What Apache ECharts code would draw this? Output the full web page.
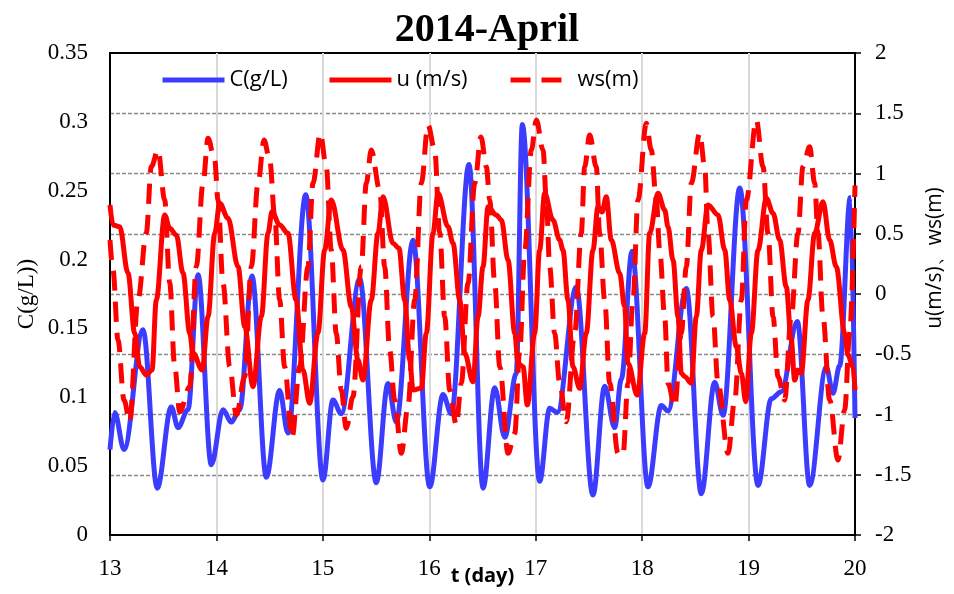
<!DOCTYPE html>
<html>
<head>
<meta charset="utf-8">
<script src="https://cdn.jsdelivr.net/npm/echarts@6/dist/echarts.min.js"></script>
<style>
  html, body { margin: 0; padding: 0; background: #fff; }
  #chart { width: 954px; height: 594px; }
</style>
</head>
<body>
<div id="chart"></div>
<script>
// Suspended sediment concentration, current velocity and water surface, 13–20 April 2014
const titleText = '2014-April';
const seriesNames = ['C(g/L)', 'u (m/s)', 'ws(m)'];

// C (g/L) — time in days, concentration
const tC = [13.000, 13.044, 13.132, 13.310, 13.444, 13.576, 13.639, 13.733, 13.827, 13.952,
  14.062, 14.140, 14.219, 14.334, 14.469, 14.594, 14.672, 14.839, 15.001, 15.095,
  15.173, 15.346, 15.502, 15.612, 15.690, 15.847, 16.004, 16.129, 16.207, 16.373,
  16.505, 16.615, 16.709, 16.817, 16.874, 17.037, 17.131, 17.203, 17.381, 17.538,
  17.648, 17.742, 17.804, 17.905, 18.055, 18.180, 18.243, 18.415, 18.556, 18.682,
  18.760, 18.917, 19.089, 19.214, 19.307, 19.458, 19.574, 19.730, 19.793, 19.856,
  19.956, 20.000];
const vC = [0.062, 0.089, 0.062, 0.149, 0.034, 0.093, 0.078, 0.091, 0.189, 0.051,
  0.091, 0.082, 0.091, 0.188, 0.042, 0.105, 0.074, 0.247, 0.040, 0.098,
  0.088, 0.186, 0.038, 0.110, 0.082, 0.214, 0.035, 0.102, 0.088, 0.269,
  0.034, 0.107, 0.071, 0.117, 0.298, 0.039, 0.092, 0.089, 0.180, 0.029,
  0.108, 0.078, 0.113, 0.206, 0.035, 0.094, 0.090, 0.179, 0.030, 0.111,
  0.087, 0.252, 0.036, 0.099, 0.104, 0.155, 0.036, 0.122, 0.103, 0.123,
  0.245, 0.085];

// u (m/s)
const tU = [13.000, 13.028, 13.091, 13.169, 13.232, 13.279, 13.341, 13.395, 13.435, 13.514,
  13.561, 13.623, 13.686, 13.749, 13.780, 13.867, 13.921, 13.984, 14.031, 14.109,
  14.203, 14.266, 14.344, 14.422, 14.485, 14.522, 14.594, 14.672, 14.748, 14.813,
  14.876, 14.954, 15.017, 15.079, 15.189, 15.267, 15.330, 15.377, 15.455, 15.518,
  15.565, 15.659, 15.715, 15.769, 15.816, 15.847, 15.925, 15.972, 16.035, 16.082,
  16.176, 16.223, 16.286, 16.333, 16.411, 16.458, 16.505, 16.552, 16.630, 16.677,
  16.740, 16.803, 16.834, 16.881, 16.921, 16.990, 17.037, 17.084, 17.162, 17.225,
  17.256, 17.303, 17.350, 17.413, 17.475, 17.538, 17.585, 17.623, 17.663, 17.710,
  17.789, 17.835, 17.867, 17.954, 18.024, 18.071, 18.149, 18.212, 18.243, 18.290,
  18.337, 18.368, 18.400, 18.462, 18.509, 18.556, 18.619, 18.713, 18.776, 18.823,
  18.885, 18.932, 18.973, 19.026, 19.089, 19.167, 19.230, 19.292, 19.354, 19.401,
  19.433, 19.464, 19.495, 19.558, 19.621, 19.699, 19.762, 19.824, 19.903, 19.934,
  19.981, 20.000];
const vU = [0.739, 0.573, 0.558, 0.174, -0.324, -0.603, -0.672, -0.630, -0.050, 0.656,
  0.545, 0.490, 0.174, -0.324, -0.490, -0.631, -0.188, 0.504, 0.753, 0.628,
  0.227, -0.271, -0.769, -0.188, 0.506, 0.683, 0.573, 0.504, -0.050, -0.631,
  -0.907, -0.324, 0.365, 0.780, 0.365, -0.105, -0.548, -0.714, -0.050, 0.504,
  0.807, 0.421, 0.379, -0.050, -0.548, -0.797, -0.783, -0.326, 0.506, 0.836,
  0.559, 0.421, -0.050, -0.492, -0.728, -0.188, 0.227, 0.724, 0.656, 0.614,
  0.282, -0.326, -0.575, -0.603, -0.921, -0.326, 0.365, 0.836, 0.614, 0.448,
  0.365, -0.050, -0.603, -0.783, -0.326, 0.365, 0.724, 0.680, 0.807, 0.448,
  0.172, -0.105, -0.575, -0.838, -0.326, 0.504, 0.836, 0.697, 0.559, 0.282,
  -0.188, -0.658, -0.686, -0.741, -0.188, 0.365, 0.739, 0.656, 0.365, -0.050,
  -0.437, -0.658, -0.894, -0.326, 0.365, 0.794, 0.670, 0.448, 0.061, -0.382,
  -0.714, -0.630, -0.658, -0.050, 0.504, 0.766, 0.448, 0.227, -0.326, -0.506,
  -0.603, -0.797];

// ws (m)
const tWs = [13.000, 13.028, 13.075, 13.132, 13.185, 13.263, 13.341, 13.388, 13.451, 13.514,
  13.561, 13.608, 13.655, 13.749, 13.811, 13.874, 13.921, 13.984, 14.015, 14.062,
  14.125, 14.187, 14.266, 14.328, 14.391, 14.447, 14.501, 14.548, 14.594, 14.641,
  14.710, 14.782, 14.860, 14.907, 14.976, 15.032, 15.079, 15.126, 15.173, 15.220,
  15.283, 15.361, 15.408, 15.455, 15.534, 15.581, 15.628, 15.675, 15.737, 15.800,
  15.863, 15.925, 15.988, 16.051, 16.098, 16.145, 16.192, 16.254, 16.301, 16.364,
  16.427, 16.486, 16.536, 16.568, 16.615, 16.662, 16.740, 16.803, 16.850, 16.897,
  16.959, 17.006, 17.069, 17.100, 17.131, 17.178, 17.225, 17.287, 17.366, 17.428,
  17.460, 17.507, 17.569, 17.601, 17.648, 17.695, 17.773, 17.820, 17.867, 17.914,
  17.961, 18.039, 18.086, 18.133, 18.165, 18.212, 18.243, 18.306, 18.368, 18.415,
  18.462, 18.541, 18.588, 18.619, 18.666, 18.713, 18.807, 18.870, 18.932, 18.979,
  19.073, 19.136, 19.183, 19.230, 19.277, 19.339, 19.401, 19.464, 19.511, 19.574,
  19.621, 19.652, 19.699, 19.762, 19.840, 19.903, 19.950, 20.000];
const vWs = [0.448, 0.200, -0.380, -0.880, -1.060, -0.050, 0.506, 1.056, 1.195, 0.780,
  0.091, -0.603, -0.977, -0.769, 0.227, 0.919, 1.292, 1.112, 0.780, 0.089,
  -0.603, -1.004, -0.686, 0.227, 0.919, 1.278, 1.112, 0.641, -0.050, -0.603,
  -1.195, -0.603, 0.227, 0.919, 1.334, 1.056, 0.365, -0.326, -0.797, -1.115,
  -0.852, 0.227, 0.919, 1.195, 0.863, 0.227, -0.465, -0.880, -1.322, -0.935,
  -0.050, 0.919, 1.402, 1.195, 0.506, -0.188, -0.797, -1.087, -0.741, 0.089,
  0.919, 1.303, 1.056, 0.780, 0.089, -0.603, -1.322, -1.156, -0.465, 0.365,
  1.195, 1.444, 1.195, 0.780, 0.227, -0.326, -0.741, -1.060, -0.326, 0.504,
  1.056, 1.320, 1.056, 0.504, -0.050, -0.741, -1.322, -1.336, -0.741, -0.050,
  0.780, 1.417, 1.195, 0.780, 0.365, -0.188, -0.741, -0.935, -0.326, 0.227,
  0.919, 1.334, 1.056, 0.504, -0.188, -0.741, -1.322, -0.880, -0.050, 0.780,
  1.444, 1.056, 0.504, -0.188, -0.686, -0.880, -0.188, 0.504, 1.056, 1.222,
  0.919, 0.504, -0.188, -0.880, -1.378, -0.963, -0.326, 0.900];

const zip = (t, v) => t.map((x, i) => [x, v[i]]);

const blue = '#3c3cff';
const red = '#ff0000';
const serif = '"Liberation Serif", "Times New Roman", serif';
const sans = '"Open Sans", "Noto Sans", sans-serif';

// legend entries show the line only (no marker in the middle)
const legendBase = {
  itemWidth: 62,
  itemHeight: 14,
  itemGap: 6,
  itemStyle: { opacity: 0 },
  lineStyle: { opacity: 1, width: 5 },
  textStyle: { fontFamily: sans, fontSize: 22, color: '#000' },
  top: 64
};

const chart = echarts.init(document.getElementById('chart'), null, { renderer: 'canvas' });
chart.setOption({
  animation: false,
  backgroundColor: '#fff',
  title: {
    text: titleText,
    left: 482, top: 6,
    textAlign: 'center',
    textStyle: { fontFamily: serif, fontWeight: 'bold', fontSize: 40, color: '#000' }
  },
  legend: [
    Object.assign({}, legendBase, { left: 155, data: [seriesNames[0]] }),
    Object.assign({}, legendBase, { left: 322, data: [seriesNames[1]] }),
    Object.assign({}, legendBase, { left: 503, data: [seriesNames[2]] })
  ],
  grid: {
    left: 110, right: 99, top: 53, bottom: 59,
    outerBoundsMode: 'none',
    containLabel: false,
    show: true, borderColor: '#000', borderWidth: 2, backgroundColor: 'transparent'
  },
  xAxis: {
    type: 'value', min: 13, max: 20, interval: 1,
    name: 't (day)',
    nameLocation: 'middle',
    nameGap: 31,
    nameMoveOverlap: false,
    nameTextStyle: { fontFamily: sans, fontWeight: 'bold', fontSize: 20, color: '#000' },
    axisLine: { lineStyle: { color: '#000', width: 2 } },
    axisTick: { show: true, length: 6, lineStyle: { color: '#000', width: 1.5 } },
    axisLabel: { fontFamily: serif, fontSize: 23, color: '#000', margin: 22 },
    splitLine: { show: true, showMinLine: false, showMaxLine: false,
      lineStyle: { color: '#d9d9d9', width: 2 } }
  },
  yAxis: [
    {
      type: 'value', min: 0, max: 0.35, interval: 0.05,
      position: 'left',
      name: 'C(g/L))',
      nameLocation: 'middle',
      nameRotate: 90,
      nameGap: 72,
      nameMoveOverlap: false,
      nameTextStyle: { fontFamily: serif, fontSize: 23, color: '#000' },
      axisLine: { show: true, lineStyle: { color: '#000', width: 2 } },
      axisTick: { show: false },
      axisLabel: { fontFamily: serif, fontSize: 23, color: '#000', margin: 22 },
      splitLine: { show: false }
    },
    {
      type: 'value', min: -2, max: 2, interval: 0.5,
      position: 'right',
      name: 'u(m/s)、ws(m)',
      nameLocation: 'middle',
      nameRotate: 90,
      nameGap: 70,
      nameMoveOverlap: false,
      nameTextStyle: { fontFamily: sans, fontSize: 21, color: '#000', padding: [0, 0, 0, 72] },
      axisLine: { show: true, lineStyle: { color: '#000', width: 2 } },
      axisTick: { show: true, inside: false, length: 6, lineStyle: { color: '#000', width: 1.5 } },
      axisLabel: { fontFamily: serif, fontSize: 23, color: '#000', margin: 20 },
      splitLine: { show: true, showMinLine: false, showMaxLine: false,
        lineStyle: { color: '#8a8a8a', width: 1.4, type: [4, 2] } }
    }
  ],
  series: [
    {
      name: seriesNames[0], type: 'line', yAxisIndex: 0,
      data: zip(tC, vC), smooth: 0.35, smoothMonotone: 'x',
      showSymbol: false, symbol: 'none',
      lineStyle: { color: blue, width: 5 }, itemStyle: { color: blue }
    },
    {
      name: seriesNames[1], type: 'line', yAxisIndex: 1,
      data: zip(tU, vU), smooth: 0.35, smoothMonotone: 'x',
      showSymbol: false, symbol: 'none',
      lineStyle: { color: red, width: 5 }, itemStyle: { color: red }
    },
    {
      name: seriesNames[2], type: 'line', yAxisIndex: 1,
      data: zip(tWs, vWs), smooth: 0.35, smoothMonotone: 'x',
      showSymbol: false, symbol: 'none',
      lineStyle: { color: red, width: 5, type: [20, 11] }, itemStyle: { color: red }
    }
  ]
});
</script>
</body>
</html>
